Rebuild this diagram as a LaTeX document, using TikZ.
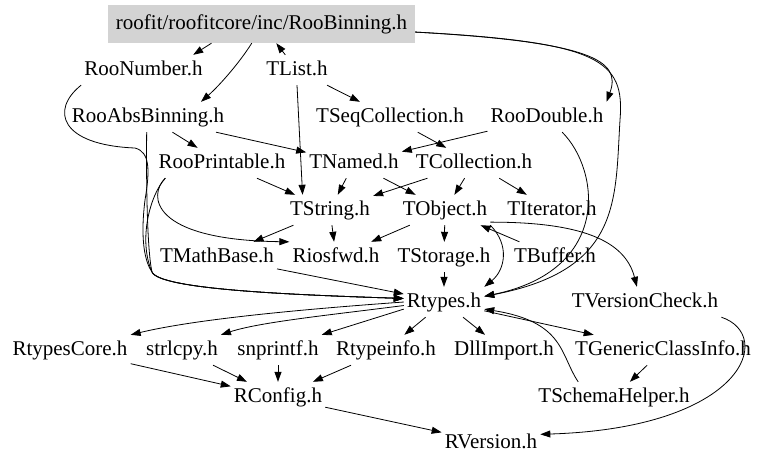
\documentclass[tikz,border=0pt]{standalone}
\usepackage{fontspec}
\setmainfont{Liberation Serif}
\usetikzlibrary{arrows.meta}
\definecolor{graybox}{RGB}{211,211,211}
\tikzset{
  hdr/.style={inner xsep=3pt, inner ysep=5.5pt, text height=14.5pt, text depth=4.5pt},
  rootbox/.style={hdr, fill=graybox, minimum width=307pt, minimum height=38pt},
  incl/.style={-{Triangle[length=10pt,width=7pt]}, line width=0.8pt},
}
\begin{document}
\begin{tikzpicture}[x=1pt,y=-1pt,font=\fontsize{21}{24}\selectfont]
      \useasboundingbox (0,0) rectangle (768,467);

      % Headers
      \node[rootbox] (root) at (261.5,24) {roofit/roofitcore/inc/RooBinning.h};
      \node[hdr] (roonum) at (143.5,70) {RooNumber.h};
      \node[hdr] (tlist) at (297,70) {TList.h};
      \node[hdr] (absbin) at (148,117) {RooAbsBinning.h};
      \node[hdr] (tseq) at (390,117) {TSeqCollection.h};
      \node[hdr] (roodbl) at (547,117) {RooDouble.h};
      \node[hdr] (printable) at (222,163) {RooPrintable.h};
      \node[hdr] (tnamed) at (354,163) {TNamed.h};
      \node[hdr] (tcoll) at (474,163) {TCollection.h};
      \node[hdr] (tstring) at (330,210) {TString.h};
      \node[hdr] (tobject) at (445,210) {TObject.h};
      \node[hdr] (titer) at (552,210) {TIterator.h};
      \node[hdr] (tmath) at (217,257) {TMathBase.h};
      \node[hdr] (riosfwd) at (336,257) {Riosfwd.h};
      \node[hdr] (tstorage) at (444,257) {TStorage.h};
      \node[hdr] (tbuffer) at (555,257) {TBuffer.h};
      \node[hdr] (rtypes) at (444,302) {Rtypes.h};
      \node[hdr] (tvers) at (645,302) {TVersionCheck.h};
      \node[hdr] (rcore) at (70,350) {RtypesCore.h};
      \node[hdr] (strlcpy) at (182,350) {strlcpy.h};
      \node[hdr] (snprintf) at (278,350) {snprintf.h};
      \node[hdr] (rtinfo) at (386,350) {Rtypeinfo.h};
      \node[hdr] (dll) at (504,350) {DllImport.h};
      \node[hdr] (tgen) at (663,350) {TGenericClassInfo.h};
      \node[hdr] (tschema) at (614,397) {TSchemaHelper.h};
      \node[hdr] (rconfig) at (278,397) {RConfig.h};
      \node[hdr] (rversion) at (491,443) {RVersion.h};

      % Includes of the top file
      \draw[incl] (root.201) -- (roonum.17);
      \draw[incl] (root.243) .. controls (240,62) and (220,85) .. (absbin.16);
      \draw[incl] (tlist) -- (root);
      \draw[incl] (root.-3) .. controls (590,42) and (622,60) .. (roodbl.north east);
      \draw[incl] (root.-3) .. controls (600,42) and (625,60) .. (620,120)
                  .. controls (615,200) and (622,270) .. (rtypes.8);

      % Left channel
      \draw[incl] (roonum.south west) .. controls (50,110) and (60,145) .. (135,148)
                  .. controls (150,152) and (150,170) .. (145,200)
                  .. controls (140,240) and (145,262) .. (152,272)
                  .. controls (160,290) and (300,295) .. (rtypes.175);
      \draw[incl] (absbin.-95) .. controls (146,200) and (148,255) .. (152,272)
                  .. controls (160,290) and (300,295) .. (rtypes.175);
      \draw[incl] (printable.-165) .. controls (150,195) and (138,240) .. (152,272)
                  .. controls (160,290) and (300,295) .. (rtypes.175);
      \draw[incl] (printable.-165) .. controls (148,195) and (150,240) .. (riosfwd.north west);

      % Middle
      \draw[incl] (absbin) -- (printable);
      \draw[incl] (absbin) -- (tnamed);
      \draw[incl] (tlist) -- (tseq);
      \draw[incl] (tlist.south) -- (tstring.151);
      \draw[incl] (roodbl) -- (tnamed);
      \draw[incl] (roodbl.-45) .. controls (600,170) and (612,270) .. (rtypes.8);
      \draw[incl] (tseq) -- (tcoll);
      \draw[incl] (printable) -- (tstring);
      \draw[incl] (tnamed) -- (tstring);
      \draw[incl] (tnamed) -- (tobject);
      \draw[incl] (tcoll) -- (tstring);
      \draw[incl] (tcoll) -- (tobject);
      \draw[incl] (tcoll) -- (titer);
      \draw[incl] (tstring) -- (tmath);
      \draw[incl] (tstring) -- (riosfwd);
      \draw[incl] (tobject) -- (riosfwd);
      \draw[incl] (tobject) -- (tstorage);
      \draw[incl] (tbuffer) -- (tobject);
      \draw[incl] (tobject.south east) .. controls (510,245) and (505,270) .. (rtypes.north east);
      \draw[incl] (tobject.-15) .. controls (580,222) and (625,240) .. (tvers.118);
      \draw[incl] (tstorage) -- (rtypes);
      \draw[incl] (tmath) -- (rtypes);

      % Bottom
      \draw[incl] (rtypes.west) .. controls (320,308) and (200,318) .. (rcore.north east);
      \draw[incl] (rtypes.185) .. controls (330,315) and (260,322) .. (strlcpy.north east);
      \draw[incl] (rtypes.190) -- (snprintf.north east);
      \draw[incl] (rtypes) -- (rtinfo);
      \draw[incl] (rtypes) -- (dll);
      \draw[incl] (rtypes) -- (tgen);
      \draw[incl] (tschema.157) .. controls (560,355) and (565,322) .. (rtypes.-10);
      \draw[incl] (tgen) -- (tschema);
      \draw[incl] (tvers.south east) .. controls (775,335) and (745,428) .. (rversion.10);
      \draw[incl] (rcore) -- (rconfig);
      \draw[incl] (strlcpy) -- (rconfig);
      \draw[incl] (snprintf) -- (rconfig);
      \draw[incl] (rtinfo) -- (rconfig);
      \draw[incl] (rconfig) -- (rversion);

    \end{tikzpicture}
\end{document}
